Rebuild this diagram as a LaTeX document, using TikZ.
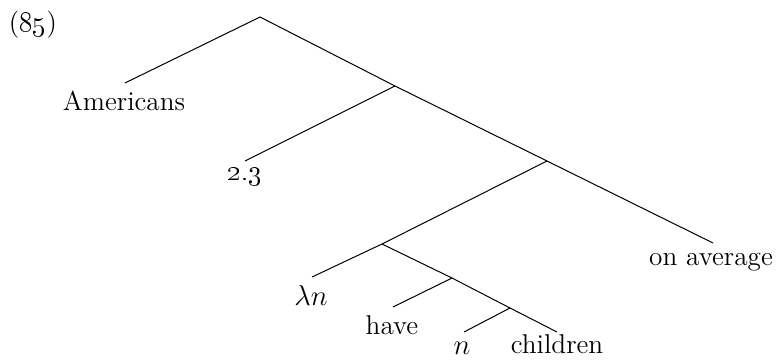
\documentclass[tikz,border=0pt]{standalone}
\begin{document}
\begin{tikzpicture}[x=0.5pt,y=-0.5pt,
  lbl/.style={inner sep=0pt,font=\fontsize{13.6}{16}\selectfont},
  edge/.style={line width=0.5pt}]
\useasboundingbox (0,0) rectangle (780,359);
% tree nodes
\coordinate (root) at (260,17);
\coordinate (A) at (395,86);
\coordinate (B) at (547,161);
\coordinate (C) at (382,244);
\coordinate (D) at (452,278);
\coordinate (E) at (510,308);
% leaf ends
\coordinate (eAm) at (125,83);
\coordinate (e23) at (245,161);
\coordinate (eOn) at (713,243);
\coordinate (eLn) at (312,277);
\coordinate (eHv) at (393,307);
\coordinate (eN) at (464,332);
\coordinate (eCh) at (557,332);
% labels
\node[lbl] (ex) at (33,25) {(\oldstylenums{85})};
\node[lbl] (am) at (124,101) {Americans};
\node[lbl] (t23) at (245,177) {\oldstylenums{2.3}};
\node[lbl] (on) at (711,262) {on average};
\node[lbl] (ln) at (311,295) {$\lambda n$};
\node[lbl] (hv) at (392,325) {have};
\node[lbl] (n) at (462,348) {$n$};
\node[lbl] (ch) at (557,344) {children};
% edges
\draw[edge] (eAm) -- (root) -- (A) -- (B) -- (eOn);
\draw[edge] (A) -- (e23);
\draw[edge] (B) -- (C) -- (eLn);
\draw[edge] (C) -- (D) -- (E) -- (eCh);
\draw[edge] (D) -- (eHv);
\draw[edge] (E) -- (eN);
\end{tikzpicture}
\end{document}
